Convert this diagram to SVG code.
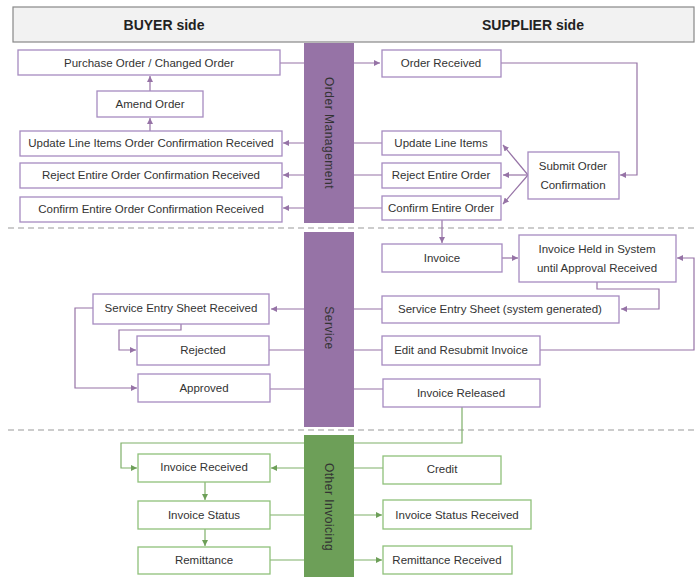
<svg xmlns="http://www.w3.org/2000/svg" width="697" height="577" viewBox="0 0 697 577">
<defs>
<marker id="ap" markerWidth="6" markerHeight="6" refX="6" refY="3" orient="auto" markerUnits="userSpaceOnUse"><path d="M0,0 L6,3 L0,6 z" fill="#9673a6"/></marker>
<marker id="ag" markerWidth="6" markerHeight="6" refX="6" refY="3" orient="auto" markerUnits="userSpaceOnUse"><path d="M0,0 L6,3 L0,6 z" fill="#6d9f58"/></marker>
</defs>
<style>
text{font-family:"Liberation Sans",Arial,sans-serif;font-size:11.5px;fill:#333;text-anchor:middle;dominant-baseline:central}
.bp{fill:#fff;stroke:#a68bc0;stroke-width:1.3}
.bg{fill:#fff;stroke:#8fc17a;stroke-width:1.3}
.lp{fill:none;stroke:#9673a6;stroke-width:1.2}
.lg{fill:none;stroke:#7fb069;stroke-width:1.2}
.hd{font-weight:bold;font-size:14px;fill:#222}
.vt{font-size:12px;letter-spacing:0.5px}
.dash{stroke:#999;stroke-width:1.2;stroke-dasharray:6 4}
</style>
<g id="header">
<rect x="13" y="7" width="681" height="35" fill="#f2f2f2" stroke="#888" stroke-width="1.2"/>
<text class="hd" x="164" y="25">BUYER side</text>
<text class="hd" x="533" y="25">SUPPLIER side</text>
</g>
<g id="dividers">
<line class="dash" x1="8" y1="228" x2="697" y2="228"/>
<line class="dash" x1="8" y1="430" x2="697" y2="430"/>
</g>
<g id="connectors">
<path class="lp" d="M280,63 H380" marker-end="url(#ap)"/>
<path class="lp" d="M150,91 V76" marker-end="url(#ap)"/>
<path class="lp" d="M150,131 V118" marker-end="url(#ap)"/>
<path class="lp" d="M382,143 H283" marker-end="url(#ap)"/>
<path class="lp" d="M382,175 H283" marker-end="url(#ap)"/>
<path class="lp" d="M382,208 H283" marker-end="url(#ap)"/>
<path class="lp" d="M501,63 H637 V175 H620" marker-end="url(#ap)"/>
<path class="lp" d="M528,175 L503,145" marker-end="url(#ap)"/>
<path class="lp" d="M528,175 H503" marker-end="url(#ap)"/>
<path class="lp" d="M528,175 L503,204" marker-end="url(#ap)"/>
<path class="lp" d="M442,220 V243" marker-end="url(#ap)"/>
<path class="lp" d="M502,258 H518" marker-end="url(#ap)"/>
<path class="lp" d="M597,282 V289 H659 V309 H621" marker-end="url(#ap)"/>
<path class="lp" d="M540,350 H694 V258 H677" marker-end="url(#ap)"/>
<path class="lp" d="M382,309 H271" marker-end="url(#ap)"/>
<path class="lp" d="M382,350 H269"/>
<path class="lp" d="M383,389 H270"/>
<path class="lp" d="M181,324 V330 H119 V350 H136" marker-end="url(#ap)"/>
<path class="lp" d="M93,308 H75 V388 H137" marker-end="url(#ap)"/>
<path class="lg" d="M462,407 V443 H121 V468 H137" marker-end="url(#ag)"/>
<path class="lg" d="M383,468 H271" marker-end="url(#ag)"/>
<path class="lg" d="M205,482 V500" marker-end="url(#ag)"/>
<path class="lg" d="M205,529 V546" marker-end="url(#ag)"/>
<path class="lg" d="M270,515 H382" marker-end="url(#ag)"/>
<path class="lg" d="M270,560 H382" marker-end="url(#ag)"/>
</g>
<g id="lane-order-management">
<rect x="304" y="43" width="50" height="180" fill="#9673a6"/>
<text class="vt" transform="translate(329,133) rotate(90)">Order Management</text>
</g>
<g id="lane-service">
<rect x="304" y="232" width="50" height="195" fill="#9673a6"/>
<text class="vt" transform="translate(329,328) rotate(90)">Service</text>
</g>
<g id="lane-other-invoicing">
<rect x="304" y="435" width="50" height="142" fill="#6d9f58"/>
<text class="vt" transform="translate(329,507) rotate(90)">Other Invoicing</text>
</g>
<g id="purchase-order"><rect class="bp" x="18" y="50" width="262" height="25"/><text x="149" y="63">Purchase Order / Changed Order</text></g>
<g id="amend-order"><rect class="bp" x="97" y="91" width="106" height="26"/><text x="150" y="104">Amend Order</text></g>
<g id="update-line-items-received"><rect class="bp" x="20" y="131" width="262" height="25"/><text x="151" y="143">Update Line Items Order Confirmation Received</text></g>
<g id="reject-entire-received"><rect class="bp" x="20" y="163" width="262" height="25"/><text x="151" y="175">Reject Entire Order Confirmation Received</text></g>
<g id="confirm-entire-received"><rect class="bp" x="20" y="197" width="262" height="25"/><text x="151" y="209">Confirm Entire Order Confirmation Received</text></g>
<g id="order-received"><rect class="bp" x="382" y="50" width="119" height="27"/><text x="441" y="63">Order Received</text></g>
<g id="update-line-items"><rect class="bp" x="382" y="131" width="119" height="24"/><text x="441" y="143">Update Line Items</text></g>
<g id="reject-entire-order"><rect class="bp" x="382" y="163" width="119" height="25"/><text x="441" y="175">Reject Entire Order</text></g>
<g id="confirm-entire-order"><rect class="bp" x="382" y="196" width="119" height="24"/><text x="441" y="208">Confirm Entire Order</text></g>
<g id="submit-order-confirmation"><rect class="bp" x="528" y="152" width="91" height="47"/><text x="573" y="166">Submit Order</text><text x="573" y="185">Confirmation</text></g>
<g id="invoice"><rect class="bp" x="382" y="244" width="120" height="28"/><text x="442" y="258">Invoice</text></g>
<g id="invoice-held"><rect class="bp" x="519" y="235" width="157" height="47"/><text x="597" y="249">Invoice Held in System</text><text x="597" y="268">until Approval Received</text></g>
<g id="service-entry-sheet"><rect class="bp" x="382" y="296" width="237" height="27"/><text x="500" y="309">Service Entry Sheet (system generated)</text></g>
<g id="edit-resubmit"><rect class="bp" x="382" y="336" width="158" height="29"/><text x="461" y="350">Edit and Resubmit Invoice</text></g>
<g id="invoice-released"><rect class="bp" x="383" y="379" width="157" height="28"/><text x="461" y="393">Invoice Released</text></g>
<g id="ses-received"><rect class="bp" x="93" y="294" width="176" height="30"/><text x="181" y="308">Service Entry Sheet Received</text></g>
<g id="rejected"><rect class="bp" x="137" y="336" width="132" height="29"/><text x="203" y="350">Rejected</text></g>
<g id="approved"><rect class="bp" x="138" y="374" width="132" height="28"/><text x="204" y="388">Approved</text></g>
<g id="invoice-received"><rect class="bg" x="138" y="454" width="132" height="28"/><text x="204" y="467">Invoice Received</text></g>
<g id="invoice-status"><rect class="bg" x="138" y="501" width="132" height="28"/><text x="204" y="515">Invoice Status</text></g>
<g id="remittance"><rect class="bg" x="138" y="547" width="132" height="27"/><text x="204" y="560">Remittance</text></g>
<g id="credit"><rect class="bg" x="383" y="456" width="118" height="28"/><text x="442" y="469">Credit</text></g>
<g id="invoice-status-received"><rect class="bg" x="383" y="500" width="148" height="29"/><text x="457" y="515">Invoice Status Received</text></g>
<g id="remittance-received"><rect class="bg" x="383" y="546" width="129" height="28"/><text x="447" y="560">Remittance Received</text></g>
</svg>
